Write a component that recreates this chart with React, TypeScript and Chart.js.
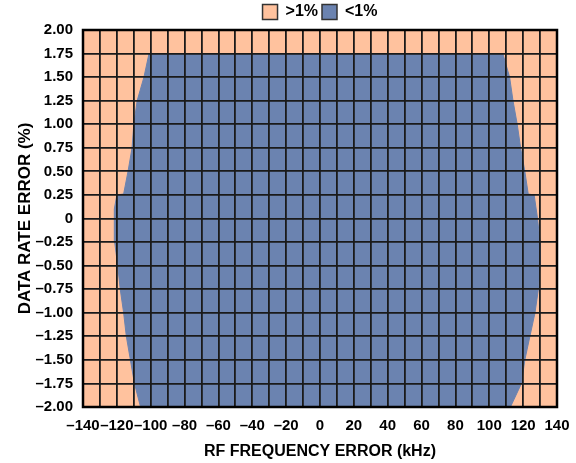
import React, { useEffect, useRef } from "react";
import { Chart, registerables } from "chart.js";

Chart.register(...registerables);

// Axis ranges and ticks
const X_MIN = -140;
const X_MAX = 140;
const X_GRID_STEP = 10;
const X_LABEL_STEP = 20;
const Y_MIN = -2;
const Y_MAX = 2;
const Y_STEP = 0.25;

// Boundary of the "<1%" region (data rate error % -> RF frequency error kHz)
const leftBoundaryY = [1.75, 1.5, 1.25, 1.0, 0.75, 0.5, 0.26, 0.25, 0.1, 0, -0.25, -0.5, -0.75, -1.0, -1.25, -1.5, -1.75, -2.0];
const leftBoundaryX = [-101, -104, -108, -110, -111, -113.4, -116, -120, -121.5, -121.5, -121.3, -119.5, -118, -116, -114.4, -112, -109.6, -106];
const rightBoundaryY = [1.75, 1.5, 1.25, 1.0, 0.75, 0.5, 0.26, 0.25, 0, -0.25, -0.5, -0.75, -1.0, -1.25, -1.5, -1.75, -2.0];
const rightBoundaryX = [108, 112, 114, 116.5, 118.5, 121, 123, 126.5, 128.5, 130, 130, 129, 127, 124, 121, 119, 112.5];

const seriesLabels = [">1%", "<1%"];
const SALMON = "#FFC29E";
const BLUE = "#6B83B0";

const FONT = "'Liberation Sans', Arial, Helvetica, sans-serif";

function fmt(v: number, decimals: number): string {
  if (Math.abs(v) < 1e-9) return "0";
  const s = Math.abs(v).toFixed(decimals);
  return v < 0 ? "\u2013" + s : s;
}

const boxPlugin = {
  id: "plotBox",
  afterDraw(chart: any) {
    const { ctx, chartArea } = chart;
    ctx.save();
    ctx.strokeStyle = "#000";
    ctx.lineWidth = 2.5;
    ctx.strokeRect(chartArea.left, chartArea.top, chartArea.right - chartArea.left, chartArea.bottom - chartArea.top);
    ctx.restore();
  },
};

export default function App() {
  const ref = useRef<HTMLCanvasElement | null>(null);

  useEffect(() => {
    if (!ref.current) return;

    const outer = [
      { x: X_MIN, y: Y_MIN },
      { x: X_MAX, y: Y_MIN },
      { x: X_MAX, y: Y_MAX },
      { x: X_MIN, y: Y_MAX },
      { x: X_MIN, y: Y_MIN },
    ];

    const poly: { x: number; y: number }[] = [];
    for (let i = 0; i < rightBoundaryY.length; i++) poly.push({ x: rightBoundaryX[i], y: rightBoundaryY[i] });
    for (let i = leftBoundaryY.length - 1; i >= 0; i--) poly.push({ x: leftBoundaryX[i], y: leftBoundaryY[i] });
    poly.push({ x: rightBoundaryX[0], y: rightBoundaryY[0] });

    const chart = new Chart(ref.current, {
      type: "line",
      data: {
        datasets: [
          {
            label: seriesLabels[0],
            data: outer,
            backgroundColor: SALMON,
            borderColor: SALMON,
            borderWidth: 1,
            pointRadius: 0,
            fill: "shape",
            tension: 0,
            order: 2,
          },
          {
            label: seriesLabels[1],
            data: poly,
            backgroundColor: BLUE,
            borderColor: BLUE,
            borderWidth: 1,
            pointRadius: 0,
            fill: "shape",
            tension: 0,
            order: 1,
          },
        ],
      },
      options: {
        animation: false,
        responsive: false,
        layout: { padding: { left: 11, right: 19, top: 0, bottom: 2 } },
        plugins: {
          tooltip: { enabled: false },
          legend: {
            position: "top",
            fullSize: false,
            labels: {
              boxWidth: 15,
              boxHeight: 15,
              padding: 4,
              color: "#000",
              font: { family: FONT, size: 16, weight: "bold" },
              generateLabels: (c: any) =>
                c.data.datasets.map((ds: any, i: number) => ({
                  text: ds.label,
                  fillStyle: ds.backgroundColor,
                  strokeStyle: "#333",
                  lineWidth: 1.5,
                  hidden: false,
                  datasetIndex: i,
                  fontColor: "#000",
                })),
            },
          },
        },
        scales: {
          x: {
            type: "linear",
            min: X_MIN,
            max: X_MAX,
            grid: { color: "#1a1a1a", lineWidth: 1.8, drawTicks: false, z: 1 },
            border: { display: false },
            afterFit: (s: any) => {
              s.height = 54;
              s.paddingLeft = 0;
              s.paddingRight = 0;
            },
            ticks: {
              stepSize: X_GRID_STEP,
              autoSkip: false,
              maxRotation: 0,
              padding: 10,
              color: "#000",
              font: { family: FONT, size: 15, weight: "bold" },
              callback: (v: any) => {
                const n = Number(v);
                return Math.abs(n % X_LABEL_STEP) < 1e-9 ? fmt(n, 0) : "";
              },
            },
            title: {
              display: true,
              text: "RF FREQUENCY ERROR (kHz)",
              color: "#000",
              font: { family: FONT, size: 16, weight: "bold" },
              padding: { top: 8, bottom: 0 },
            },
          },
          y: {
            type: "linear",
            min: Y_MIN,
            max: Y_MAX,
            grid: { color: "#1a1a1a", lineWidth: 1.8, drawTicks: false, z: 1 },
            border: { display: false },
            afterFit: (s: any) => {
              s.width = 72;
              s.paddingTop = 0;
              s.paddingBottom = 0;
            },
            ticks: {
              stepSize: Y_STEP,
              autoSkip: false,
              padding: 10,
              color: "#000",
              font: { family: FONT, size: 15, weight: "bold" },
              callback: (v: any) => fmt(Number(v), 2),
            },
            title: {
              display: true,
              text: "DATA RATE ERROR (%)",
              color: "#000",
              font: { family: FONT, size: 17, weight: "bold" },
              padding: { top: 4, bottom: 4 },
            },
          },
        },
      },
      plugins: [boxPlugin],
    } as any);

    return () => chart.destroy();
  }, []);

  return (
    <div style={{ position: "fixed", left: 0, top: 0, width: 576, height: 463, background: "#fff" }}>
      <canvas ref={ref} width={576} height={463} style={{ display: "block" }} />
    </div>
  );
}
